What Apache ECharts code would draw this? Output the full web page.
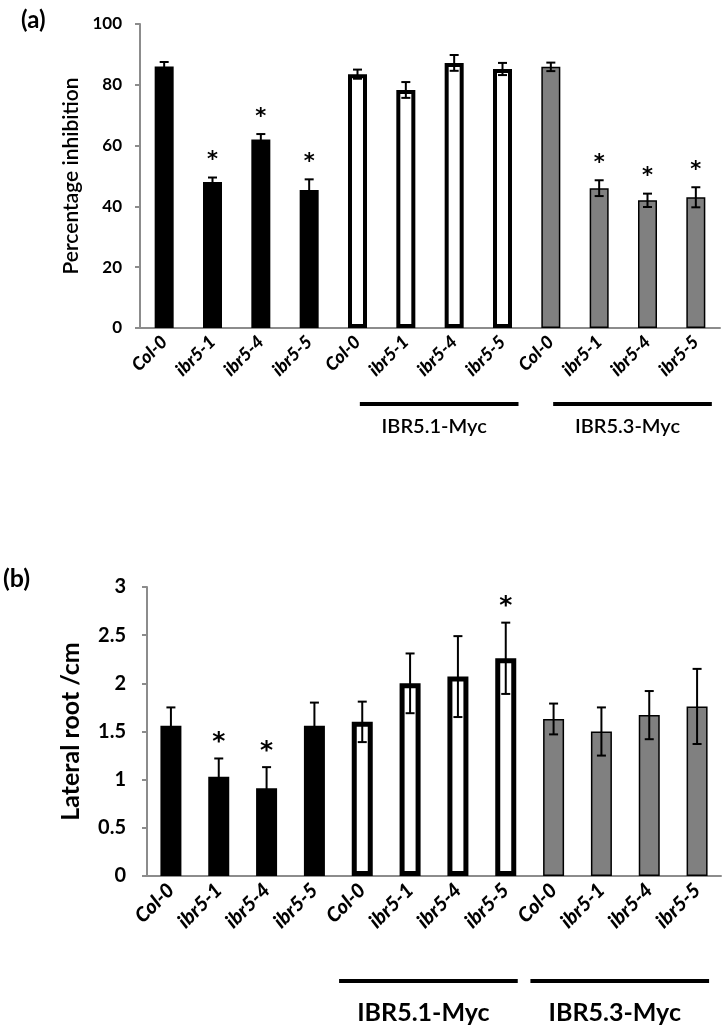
<!DOCTYPE html>
<html><head><meta charset="utf-8">
<script src="https://cdn.jsdelivr.net/npm/echarts@6.0.0/dist/echarts.min.js"></script>
<style>html,body{margin:0;padding:0;background:#fff}#c{width:728px;height:1030px}</style>
</head><body><div id="c"></div>
<script>
// ---- data ----
const categories = ['Col-0','ibr5-1','ibr5-4','ibr5-5','Col-0','ibr5-1','ibr5-4','ibr5-5','Col-0','ibr5-1','ibr5-4','ibr5-5'];
// 0 = untransformed lines, 1 = IBR5.1-Myc lines, 2 = IBR5.3-Myc lines
const lineGroup = [0,0,0,0,1,1,1,1,2,2,2,2];
const groupLabels = ['IBR5.1-Myc','IBR5.3-Myc'];
const groupFirst = [5, 9];
const groupLast = [7, 11];

const inhibition    = [86.0, 48.0, 62.0, 45.4, 83.5, 78.3, 87.2, 85.2, 85.9, 46.0, 42.0, 43.0];
const inhibitionErr = [1.5, 1.5, 1.8, 3.5, 1.5, 2.6, 2.6, 2.0, 1.4, 2.6, 2.2, 3.3];
const inhibitionSig = [0,1,1,1,0,0,0,0,0,1,1,1];

const lateralRoot    = [1.56, 1.03, 0.91, 1.56, 1.60, 2.00, 2.07, 2.26, 1.63, 1.50, 1.67, 1.76];
const lateralRootErr = [0.19, 0.19, 0.22, 0.24, 0.21, 0.31, 0.42, 0.37, 0.16, 0.25, 0.25, 0.39];
const lateralRootSig = [0,1,1,0,0,0,0,1,0,0,0,0];

const yTicksA = {min: 0, max: 100, interval: 20};
const yTicksB = {min: 0, max: 3, interval: 0.5};

// ---- styles ----
const FONT = 'Lato';
const barStylesA = [
  {color:'#000000', borderColor:'#000000', borderWidth:0},
  {color:'#ffffff', borderColor:'#000000', borderWidth:4},
  {color:'#808080', borderColor:'#000000', borderWidth:1.5}
];
const barStylesB = [
  {color:'#000000', borderColor:'#000000', borderWidth:0},
  {color:'#ffffff', borderColor:'#000000', borderWidth:5},
  {color:'#808080', borderColor:'#000000', borderWidth:1.5}
];

function barData(vals, styles){
  return vals.map((v,i)=>({value:v, itemStyle:styles[lineGroup[i]]}));
}
function errData(vals, errs, sig){
  return vals.map((v,i)=>[i, v, errs[i], sig[i]]);
}
function errRenderer(cap, lw, starSize, starGap){
  return function(params, api){
    const i = api.value(0), v = api.value(1), e = api.value(2), s = api.value(3);
    const top = api.coord([i, v + e]);
    const bot = api.coord([i, v - e]);
    const st = {stroke:'#000', lineWidth:lw};
    const children = [
      {type:'line', shape:{x1:top[0], y1:top[1], x2:bot[0], y2:bot[1]}, style:st},
      {type:'line', shape:{x1:top[0]-cap, y1:top[1], x2:top[0]+cap, y2:top[1]}, style:st},
      {type:'line', shape:{x1:bot[0]-cap, y1:bot[1], x2:bot[0]+cap, y2:bot[1]}, style:st}
    ];
    if (s) {
      children.push({type:'text', style:{text:'*', x:top[0], y:top[1]-starGap, fontSize:starSize,
        fontFamily:'DejaVu Sans', fontWeight:'bold', fill:'#000', align:'center', verticalAlign:'middle'}});
    }
    return {type:'group', children};
  };
}

const axisLineStyle = {color:'#8c8c8c', width:2};

const chart = echarts.init(document.getElementById('c'), null, {renderer:'canvas'});
const option = {
  backgroundColor:'#ffffff',
  animation:false,
  grid:[
    {left:140, right:8, top:24, height:304, containLabel:false},
    {left:147, right:7, top:587, height:289, containLabel:false}
  ],
  xAxis:[
    {type:'category', gridIndex:0, data:categories, axisLine:{lineStyle:axisLineStyle}, axisTick:{show:false},
     axisLabel:{interval:0, rotate:45, margin:11, color:'#000', fontFamily:FONT, fontWeight:900, fontStyle:'italic', fontSize:18}},
    {type:'category', gridIndex:1, data:categories, axisLine:{lineStyle:axisLineStyle}, axisTick:{show:false},
     axisLabel:{interval:0, rotate:45, margin:11, color:'#000', fontFamily:FONT, fontWeight:900, fontStyle:'italic', fontSize:20}}
  ],
  yAxis:[
    {type:'value', gridIndex:0, min:yTicksA.min, max:yTicksA.max, interval:yTicksA.interval,
     axisLine:{show:true, lineStyle:axisLineStyle}, axisTick:{show:true, length:5, lineStyle:axisLineStyle},
     splitLine:{show:false},
     axisLabel:{margin:18, color:'#000', fontFamily:FONT, fontWeight:'bold', fontSize:17},
     name:'Percentage inhibition', nameLocation:'middle', nameGap:56, nameRotate:90,
     nameTextStyle:{color:'#000', fontFamily:FONT, fontSize:21, fontWeight:600}},
    {type:'value', gridIndex:1, min:yTicksB.min, max:yTicksB.max, interval:yTicksB.interval,
     axisLine:{show:true, lineStyle:axisLineStyle}, axisTick:{show:true, length:5, lineStyle:axisLineStyle},
     splitLine:{show:false},
     axisLabel:{margin:21, color:'#000', fontFamily:FONT, fontWeight:'bold', fontSize:20},
     name:'Lateral root /cm', nameLocation:'middle', nameGap:64, nameRotate:90,
     nameTextStyle:{color:'#000', fontFamily:FONT, fontSize:25, fontWeight:'bold'}}
  ],
  series:[
    {type:'bar', xAxisIndex:0, yAxisIndex:0, barWidth:19, data:barData(inhibition, barStylesA), z:2},
    {type:'custom', xAxisIndex:0, yAxisIndex:0, renderItem:errRenderer(4.5, 2, 21, 17),
     data:errData(inhibition, inhibitionErr, inhibitionSig), z:3},
    {type:'bar', xAxisIndex:1, yAxisIndex:1, barWidth:21, data:barData(lateralRoot, barStylesB), z:2},
    {type:'custom', xAxisIndex:1, yAxisIndex:1, renderItem:errRenderer(4.5, 2, 25, 16),
     data:errData(lateralRoot, lateralRootErr, lateralRootSig), z:3}
  ]
};
chart.setOption(option);

// group annotations and panel letters
const panels = [
  {grid:0, lineY:404, textY:427, startOff:-46, endOff:16, fontSize:20, fontWeight:600, lw:4},
  {grid:1, lineY:981, textY:1013, startOff:-71, endOff:12, fontSize:25, fontWeight:'bold', lw:4}
];
const graphics = [];
panels.forEach(p=>{
  groupLabels.forEach((lab,g)=>{
    const a = chart.convertToPixel({gridIndex:p.grid}, [groupFirst[g], 0]);
    const b = chart.convertToPixel({gridIndex:p.grid}, [groupLast[g], 0]);
    const x1 = a[0] + p.startOff, x2 = b[0] + p.endOff;
    graphics.push({type:'line', shape:{x1, y1:p.lineY, x2, y2:p.lineY}, style:{stroke:'#000', lineWidth:p.lw}});
    graphics.push({type:'text', style:{text:lab, x:(x1+x2)/2 - 5, y:p.textY, align:'center', verticalAlign:'middle',
      fontFamily:FONT, fontSize:p.fontSize, fontWeight:p.fontWeight, fill:'#000'}});
  });
});
graphics.push({type:'text', style:{text:'(a)', x:21, y:20, verticalAlign:'middle', fontFamily:FONT, fontSize:24, fontWeight:'bold', fill:'#000'}});
graphics.push({type:'text', style:{text:'(b)', x:3, y:579, verticalAlign:'middle', fontFamily:FONT, fontSize:25, fontWeight:'bold', fill:'#000'}});
chart.setOption({graphic:graphics});
</script>
</body></html>
